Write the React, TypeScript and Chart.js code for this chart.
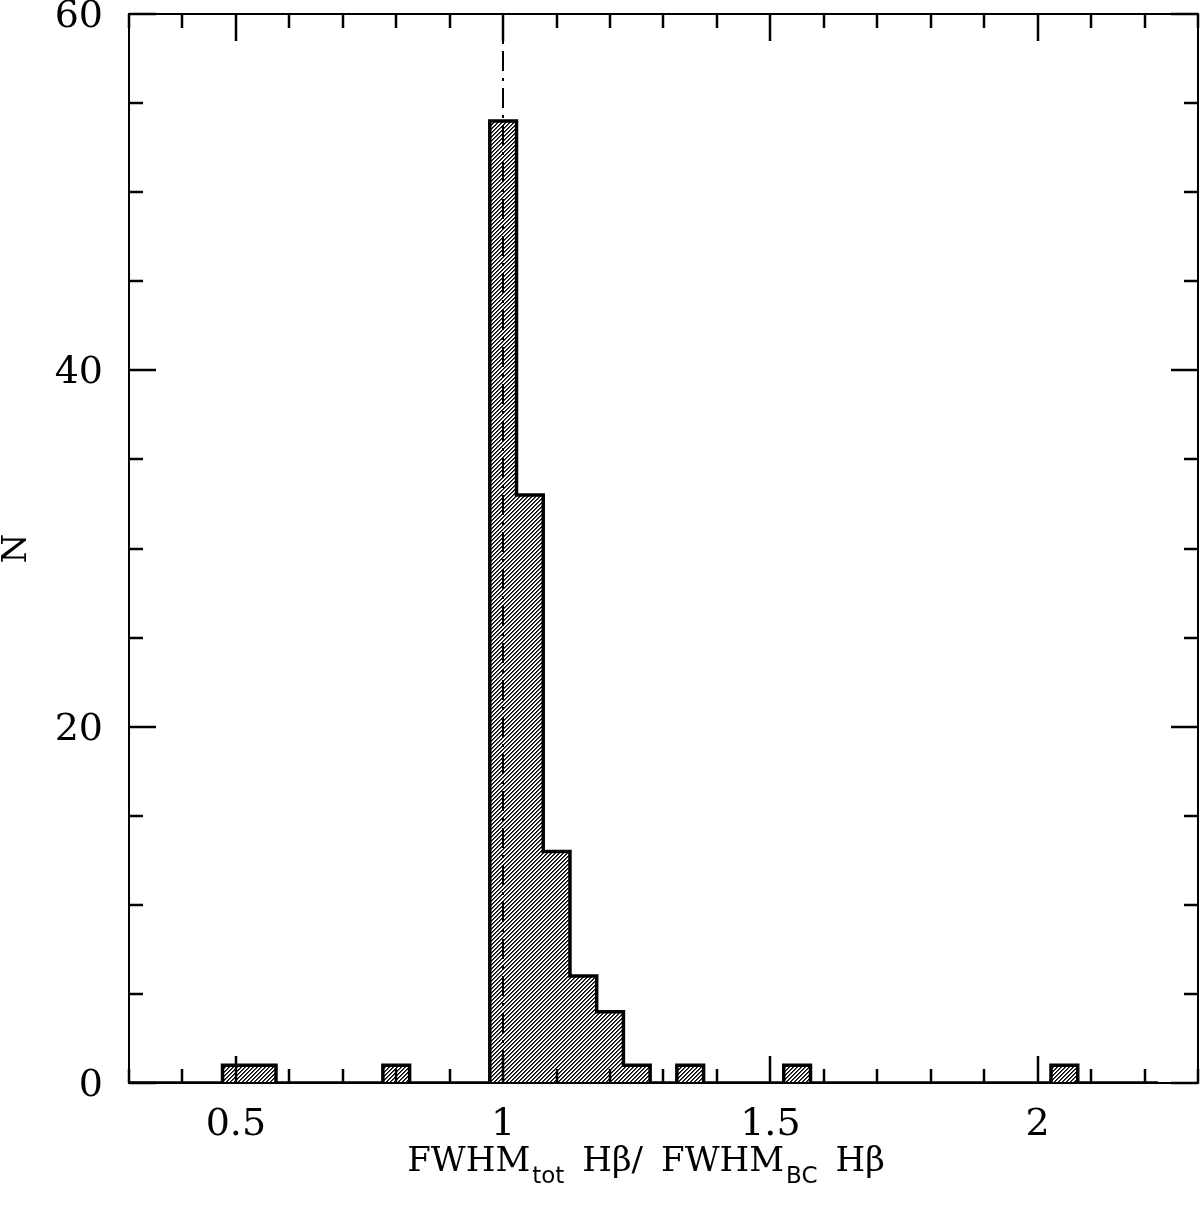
import React, { useEffect, useRef } from "react";
import { Chart, registerables } from "chart.js";

Chart.register(...registerables);

// ---- data ----
const binWidth = 0.05;
const histStart = 0.275;
const histEnd = 2.225;
const binCenters = [0.5, 0.55, 0.8, 1.0, 1.05, 1.1, 1.15, 1.2, 1.25, 1.35, 1.55, 2.05];
const binCounts = [1, 1, 1, 54, 33, 13, 6, 4, 1, 1, 1, 1];
const refLineX = 1;
const xMin = 0.3;
const xMax = 2.3;
const xStep = 0.1;
const xMajorEvery = 0.5;
const yMin = 0;
const yMax = 60;
const yStep = 5;
const yMajorEvery = 20;

function buildOutline() {
  const pts: { x: number; y: number }[] = [{ x: histStart, y: 0 }];
  let prevRight: number | null = null;
  let prevCount = 0;
  for (let i = 0; i < binCenters.length; i++) {
    const left = binCenters[i] - binWidth / 2;
    const right = binCenters[i] + binWidth / 2;
    if (prevRight !== null && Math.abs(prevRight - left) > 1e-9) {
      pts.push({ x: prevRight, y: 0 });
      prevCount = 0;
    }
    pts.push({ x: left, y: prevCount });
    pts.push({ x: left, y: binCounts[i] });
    pts.push({ x: right, y: binCounts[i] });
    prevRight = right;
    prevCount = binCounts[i];
  }
  if (prevRight !== null) pts.push({ x: prevRight, y: 0 });
  pts.push({ x: histEnd, y: 0 });
  return pts;
}

function makeHatch(): CanvasPattern | string {
  const s = 4;
  const c = document.createElement("canvas");
  c.width = s;
  c.height = s;
  const g = c.getContext("2d");
  if (!g) return "#999";
  g.fillStyle = "#fff";
  g.fillRect(0, 0, s, s);
  g.fillStyle = "#000";
  for (let i = 0; i < s; i++) {
    g.fillRect(i, s - 1 - i, 1, 1);
  }
  g.fillStyle = "#444";
  for (let i = 0; i < s; i++) {
    g.fillRect(i, (s - i) % s, 1, 1);
  }
  const p = g.createPattern(c, "repeat");
  return p || "#999";
}

const isMajor = (v: number, every: number) =>
  Math.abs(v / every - Math.round(v / every)) < 1e-6;

const framePlugin = {
  id: "frame",
  afterDatasetsDraw(chart: any) {
    const { ctx, chartArea, scales } = chart;
    const x = Math.round(scales.x.getPixelForValue(refLineX));
    ctx.save();
    ctx.strokeStyle = "#000";
    ctx.lineWidth = 2;
    ctx.setLineDash([20, 7, 3, 7]);
    ctx.beginPath();
    ctx.moveTo(x, chartArea.top);
    ctx.lineTo(x, chartArea.bottom);
    ctx.stroke();
    ctx.restore();
  },
  afterDraw(chart: any) {
    const { ctx, chartArea, scales } = chart;
    const { left, right, top, bottom } = chartArea;
    ctx.save();
    ctx.strokeStyle = "#000";
    ctx.lineWidth = 2;
    ctx.setLineDash([]);
    ctx.strokeRect(left, top, right - left, bottom - top);
    ctx.lineWidth = 2.5;
    ctx.beginPath();
    scales.x.ticks.forEach((t: any) => {
      const px = Math.round(scales.x.getPixelForValue(t.value));
      const len = isMajor(t.value, xMajorEvery) ? 27 : 14;
      ctx.moveTo(px, bottom);
      ctx.lineTo(px, bottom - len);
      ctx.moveTo(px, top);
      ctx.lineTo(px, top + len);
    });
    scales.y.ticks.forEach((t: any) => {
      const py = Math.round(scales.y.getPixelForValue(t.value));
      const len = isMajor(t.value, yMajorEvery) ? 27 : 14;
      ctx.moveTo(left, py);
      ctx.lineTo(left + len, py);
      ctx.moveTo(right, py);
      ctx.lineTo(right - len, py);
    });
    ctx.stroke();

    // y title
    ctx.fillStyle = "#000";
    ctx.save();
    ctx.translate(17, (top + bottom) / 2);
    ctx.rotate(-Math.PI / 2);
    ctx.font = "34px 'DejaVu Serif'";
    ctx.textAlign = "center";
    ctx.textBaseline = "middle";
    ctx.fillText("N", 0, 0);
    ctx.restore();

    // x title with subscripts
    const parts: [string, boolean, number][] = [
      ["FWHM", false, 0],
      ["tot", true, 2],
      ["H\u03B2/", false, 18],
      ["FWHM", false, 18],
      ["BC", true, 2],
      ["H\u03B2", false, 18],
    ];
    const mainFont = "34px 'DejaVu Serif'";
    const subFont = "23px 'DejaVu Sans'";
    let total = 0;
    parts.forEach(([txt, sub, gap]) => {
      ctx.font = sub ? subFont : mainFont;
      total += ctx.measureText(txt).width + gap;
    });
    let cx = 646 - total / 2;
    const base = 1171;
    ctx.textAlign = "left";
    ctx.textBaseline = "alphabetic";
    parts.forEach(([txt, sub, gap]) => {
      ctx.font = sub ? subFont : mainFont;
      cx += gap;
      ctx.fillText(txt, cx, sub ? base + 12 : base);
      cx += ctx.measureText(txt).width;
    });
    ctx.restore();
  },
};

function zeroPad(s: any) {
  s.paddingTop = 0;
  s.paddingBottom = 0;
  s.paddingLeft = 0;
  s.paddingRight = 0;
}

export default function App() {
  const ref = useRef<HTMLCanvasElement | null>(null);
  useEffect(() => {
    document.body.style.margin = "0";
    document.body.style.overflow = "hidden";
    const canvas = ref.current;
    if (!canvas) return;
    const chart = new Chart(canvas, {
      type: "line",
      data: {
        datasets: [
          {
            data: buildOutline(),
            borderColor: "#000",
            borderWidth: 3.5,
            backgroundColor: makeHatch() as any,
            fill: "origin",
            pointRadius: 0,
            tension: 0,
            borderJoinStyle: "miter",
            borderCapStyle: "butt",
          },
        ],
      },
      options: {
        animation: false,
        responsive: false,
        devicePixelRatio: 1,
        layout: { padding: { top: 14, right: 2, left: 0, bottom: 0 } },
        plugins: { legend: { display: false }, tooltip: { enabled: false } },
        scales: {
          x: {
            type: "linear",
            min: xMin,
            max: xMax,
            grid: { display: false, drawTicks: false },
            border: { display: false },
            ticks: {
              stepSize: xStep,
              autoSkip: false,
              maxRotation: 0,
              padding: 19,
              color: "#000",
              font: { family: "'DejaVu Serif'", size: 38 },
              callback: (v: any) => {
                const n = Number(v);
                if (!isMajor(n, xMajorEvery)) return "";
                return String(Math.round(n * 10) / 10);
              },
            },
            afterFit: (s: any) => {
              s.height = 123;
              zeroPad(s);
            },
          },
          y: {
            type: "linear",
            min: yMin,
            max: yMax,
            grid: { display: false, drawTicks: false },
            border: { display: false },
            ticks: {
              stepSize: yStep,
              autoSkip: false,
              padding: 26,
              labelOffset: 3,
              color: "#000",
              font: { family: "'DejaVu Serif'", size: 38 },
              callback: (v: any) => {
                const n = Number(v);
                if (!isMajor(n, yMajorEvery)) return "";
                return String(Math.round(n));
              },
            },
            afterFit: (s: any) => {
              s.width = 129;
              zeroPad(s);
            },
          },
        },
      },
      plugins: [framePlugin],
    });
    return () => chart.destroy();
  }, []);
  return (
    <div style={{ width: 1200, height: 1206, background: "#fff" }}>
      <canvas ref={ref} width={1200} height={1206} style={{ display: "block" }} />
    </div>
  );
}
